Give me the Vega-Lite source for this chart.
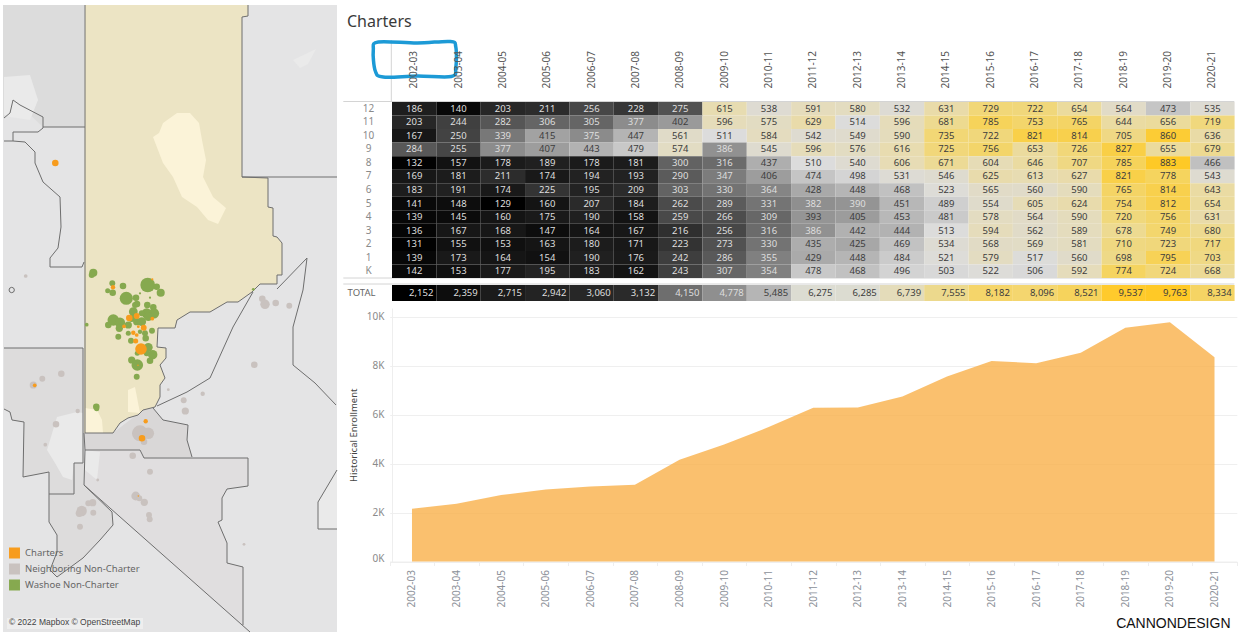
{"$schema":"https://vega.github.io/schema/vega-lite/v6.json","padding":0,"background":"white","bounds":"flush","spacing":55,
"resolve":{"scale":{"color":"independent","fill":"independent","size":"independent"},"legend":{"color":"independent"}},
"config":{"font":"Noto Sans","view":{"stroke":null},"axis":{"labelFontWeight":"normal"}},
"datasets":{
"total":[{"year":"2002-03","total":2152},{"year":"2003-04","total":2359},{"year":"2004-05","total":2715},{"year":"2005-06","total":2942},{"year":"2006-07","total":3060},{"year":"2007-08","total":3132},{"year":"2008-09","total":4150},{"year":"2009-10","total":4778},{"year":"2010-11","total":5485},{"year":"2011-12","total":6275},{"year":"2012-13","total":6285},{"year":"2013-14","total":6739},{"year":"2014-15","total":7555},{"year":"2015-16","total":8182},{"year":"2016-17","total":8096},{"year":"2017-18","total":8521},{"year":"2018-19","total":9537},{"year":"2019-20","total":9763},{"year":"2020-21","total":8334}],
"grid":[
{"year":"2002-03","grade":"12","v":186},{"year":"2003-04","grade":"12","v":140},{"year":"2004-05","grade":"12","v":203},{"year":"2005-06","grade":"12","v":211},{"year":"2006-07","grade":"12","v":256},{"year":"2007-08","grade":"12","v":228},{"year":"2008-09","grade":"12","v":275},{"year":"2009-10","grade":"12","v":615},{"year":"2010-11","grade":"12","v":538},{"year":"2011-12","grade":"12","v":591},{"year":"2012-13","grade":"12","v":580},{"year":"2013-14","grade":"12","v":532},{"year":"2014-15","grade":"12","v":631},{"year":"2015-16","grade":"12","v":729},{"year":"2016-17","grade":"12","v":722},{"year":"2017-18","grade":"12","v":654},{"year":"2018-19","grade":"12","v":564},{"year":"2019-20","grade":"12","v":473},{"year":"2020-21","grade":"12","v":535},
{"year":"2002-03","grade":"11","v":203},{"year":"2003-04","grade":"11","v":244},{"year":"2004-05","grade":"11","v":282},{"year":"2005-06","grade":"11","v":306},{"year":"2006-07","grade":"11","v":305},{"year":"2007-08","grade":"11","v":377},{"year":"2008-09","grade":"11","v":402},{"year":"2009-10","grade":"11","v":596},{"year":"2010-11","grade":"11","v":575},{"year":"2011-12","grade":"11","v":629},{"year":"2012-13","grade":"11","v":514},{"year":"2013-14","grade":"11","v":596},{"year":"2014-15","grade":"11","v":681},{"year":"2015-16","grade":"11","v":785},{"year":"2016-17","grade":"11","v":753},{"year":"2017-18","grade":"11","v":765},{"year":"2018-19","grade":"11","v":644},{"year":"2019-20","grade":"11","v":656},{"year":"2020-21","grade":"11","v":719},
{"year":"2002-03","grade":"10","v":167},{"year":"2003-04","grade":"10","v":250},{"year":"2004-05","grade":"10","v":339},{"year":"2005-06","grade":"10","v":415},{"year":"2006-07","grade":"10","v":375},{"year":"2007-08","grade":"10","v":447},{"year":"2008-09","grade":"10","v":561},{"year":"2009-10","grade":"10","v":511},{"year":"2010-11","grade":"10","v":584},{"year":"2011-12","grade":"10","v":542},{"year":"2012-13","grade":"10","v":549},{"year":"2013-14","grade":"10","v":590},{"year":"2014-15","grade":"10","v":735},{"year":"2015-16","grade":"10","v":722},{"year":"2016-17","grade":"10","v":821},{"year":"2017-18","grade":"10","v":814},{"year":"2018-19","grade":"10","v":705},{"year":"2019-20","grade":"10","v":860},{"year":"2020-21","grade":"10","v":636},
{"year":"2002-03","grade":"9","v":284},{"year":"2003-04","grade":"9","v":255},{"year":"2004-05","grade":"9","v":377},{"year":"2005-06","grade":"9","v":407},{"year":"2006-07","grade":"9","v":443},{"year":"2007-08","grade":"9","v":479},{"year":"2008-09","grade":"9","v":574},{"year":"2009-10","grade":"9","v":386},{"year":"2010-11","grade":"9","v":545},{"year":"2011-12","grade":"9","v":596},{"year":"2012-13","grade":"9","v":576},{"year":"2013-14","grade":"9","v":616},{"year":"2014-15","grade":"9","v":725},{"year":"2015-16","grade":"9","v":756},{"year":"2016-17","grade":"9","v":653},{"year":"2017-18","grade":"9","v":726},{"year":"2018-19","grade":"9","v":827},{"year":"2019-20","grade":"9","v":655},{"year":"2020-21","grade":"9","v":679},
{"year":"2002-03","grade":"8","v":132},{"year":"2003-04","grade":"8","v":157},{"year":"2004-05","grade":"8","v":178},{"year":"2005-06","grade":"8","v":189},{"year":"2006-07","grade":"8","v":178},{"year":"2007-08","grade":"8","v":181},{"year":"2008-09","grade":"8","v":300},{"year":"2009-10","grade":"8","v":316},{"year":"2010-11","grade":"8","v":437},{"year":"2011-12","grade":"8","v":510},{"year":"2012-13","grade":"8","v":540},{"year":"2013-14","grade":"8","v":606},{"year":"2014-15","grade":"8","v":671},{"year":"2015-16","grade":"8","v":604},{"year":"2016-17","grade":"8","v":646},{"year":"2017-18","grade":"8","v":707},{"year":"2018-19","grade":"8","v":785},{"year":"2019-20","grade":"8","v":883},{"year":"2020-21","grade":"8","v":466},
{"year":"2002-03","grade":"7","v":169},{"year":"2003-04","grade":"7","v":181},{"year":"2004-05","grade":"7","v":211},{"year":"2005-06","grade":"7","v":174},{"year":"2006-07","grade":"7","v":194},{"year":"2007-08","grade":"7","v":193},{"year":"2008-09","grade":"7","v":290},{"year":"2009-10","grade":"7","v":347},{"year":"2010-11","grade":"7","v":406},{"year":"2011-12","grade":"7","v":474},{"year":"2012-13","grade":"7","v":498},{"year":"2013-14","grade":"7","v":531},{"year":"2014-15","grade":"7","v":546},{"year":"2015-16","grade":"7","v":625},{"year":"2016-17","grade":"7","v":613},{"year":"2017-18","grade":"7","v":627},{"year":"2018-19","grade":"7","v":821},{"year":"2019-20","grade":"7","v":778},{"year":"2020-21","grade":"7","v":543},
{"year":"2002-03","grade":"6","v":183},{"year":"2003-04","grade":"6","v":191},{"year":"2004-05","grade":"6","v":174},{"year":"2005-06","grade":"6","v":225},{"year":"2006-07","grade":"6","v":195},{"year":"2007-08","grade":"6","v":209},{"year":"2008-09","grade":"6","v":303},{"year":"2009-10","grade":"6","v":330},{"year":"2010-11","grade":"6","v":364},{"year":"2011-12","grade":"6","v":428},{"year":"2012-13","grade":"6","v":448},{"year":"2013-14","grade":"6","v":468},{"year":"2014-15","grade":"6","v":523},{"year":"2015-16","grade":"6","v":565},{"year":"2016-17","grade":"6","v":560},{"year":"2017-18","grade":"6","v":590},{"year":"2018-19","grade":"6","v":765},{"year":"2019-20","grade":"6","v":814},{"year":"2020-21","grade":"6","v":643},
{"year":"2002-03","grade":"5","v":141},{"year":"2003-04","grade":"5","v":148},{"year":"2004-05","grade":"5","v":129},{"year":"2005-06","grade":"5","v":160},{"year":"2006-07","grade":"5","v":207},{"year":"2007-08","grade":"5","v":184},{"year":"2008-09","grade":"5","v":262},{"year":"2009-10","grade":"5","v":289},{"year":"2010-11","grade":"5","v":331},{"year":"2011-12","grade":"5","v":382},{"year":"2012-13","grade":"5","v":390},{"year":"2013-14","grade":"5","v":451},{"year":"2014-15","grade":"5","v":489},{"year":"2015-16","grade":"5","v":554},{"year":"2016-17","grade":"5","v":605},{"year":"2017-18","grade":"5","v":624},{"year":"2018-19","grade":"5","v":754},{"year":"2019-20","grade":"5","v":812},{"year":"2020-21","grade":"5","v":654},
{"year":"2002-03","grade":"4","v":139},{"year":"2003-04","grade":"4","v":145},{"year":"2004-05","grade":"4","v":160},{"year":"2005-06","grade":"4","v":175},{"year":"2006-07","grade":"4","v":190},{"year":"2007-08","grade":"4","v":158},{"year":"2008-09","grade":"4","v":259},{"year":"2009-10","grade":"4","v":266},{"year":"2010-11","grade":"4","v":309},{"year":"2011-12","grade":"4","v":393},{"year":"2012-13","grade":"4","v":405},{"year":"2013-14","grade":"4","v":453},{"year":"2014-15","grade":"4","v":481},{"year":"2015-16","grade":"4","v":578},{"year":"2016-17","grade":"4","v":564},{"year":"2017-18","grade":"4","v":590},{"year":"2018-19","grade":"4","v":720},{"year":"2019-20","grade":"4","v":756},{"year":"2020-21","grade":"4","v":631},
{"year":"2002-03","grade":"3","v":136},{"year":"2003-04","grade":"3","v":167},{"year":"2004-05","grade":"3","v":168},{"year":"2005-06","grade":"3","v":147},{"year":"2006-07","grade":"3","v":164},{"year":"2007-08","grade":"3","v":167},{"year":"2008-09","grade":"3","v":216},{"year":"2009-10","grade":"3","v":256},{"year":"2010-11","grade":"3","v":316},{"year":"2011-12","grade":"3","v":386},{"year":"2012-13","grade":"3","v":442},{"year":"2013-14","grade":"3","v":444},{"year":"2014-15","grade":"3","v":513},{"year":"2015-16","grade":"3","v":594},{"year":"2016-17","grade":"3","v":562},{"year":"2017-18","grade":"3","v":589},{"year":"2018-19","grade":"3","v":678},{"year":"2019-20","grade":"3","v":749},{"year":"2020-21","grade":"3","v":680},
{"year":"2002-03","grade":"2","v":131},{"year":"2003-04","grade":"2","v":155},{"year":"2004-05","grade":"2","v":153},{"year":"2005-06","grade":"2","v":163},{"year":"2006-07","grade":"2","v":180},{"year":"2007-08","grade":"2","v":171},{"year":"2008-09","grade":"2","v":223},{"year":"2009-10","grade":"2","v":273},{"year":"2010-11","grade":"2","v":330},{"year":"2011-12","grade":"2","v":435},{"year":"2012-13","grade":"2","v":425},{"year":"2013-14","grade":"2","v":469},{"year":"2014-15","grade":"2","v":534},{"year":"2015-16","grade":"2","v":568},{"year":"2016-17","grade":"2","v":569},{"year":"2017-18","grade":"2","v":581},{"year":"2018-19","grade":"2","v":710},{"year":"2019-20","grade":"2","v":723},{"year":"2020-21","grade":"2","v":717},
{"year":"2002-03","grade":"1","v":139},{"year":"2003-04","grade":"1","v":173},{"year":"2004-05","grade":"1","v":164},{"year":"2005-06","grade":"1","v":154},{"year":"2006-07","grade":"1","v":190},{"year":"2007-08","grade":"1","v":176},{"year":"2008-09","grade":"1","v":242},{"year":"2009-10","grade":"1","v":286},{"year":"2010-11","grade":"1","v":355},{"year":"2011-12","grade":"1","v":429},{"year":"2012-13","grade":"1","v":448},{"year":"2013-14","grade":"1","v":484},{"year":"2014-15","grade":"1","v":521},{"year":"2015-16","grade":"1","v":579},{"year":"2016-17","grade":"1","v":517},{"year":"2017-18","grade":"1","v":560},{"year":"2018-19","grade":"1","v":698},{"year":"2019-20","grade":"1","v":795},{"year":"2020-21","grade":"1","v":703},
{"year":"2002-03","grade":"K","v":142},{"year":"2003-04","grade":"K","v":153},{"year":"2004-05","grade":"K","v":177},{"year":"2005-06","grade":"K","v":195},{"year":"2006-07","grade":"K","v":183},{"year":"2007-08","grade":"K","v":162},{"year":"2008-09","grade":"K","v":243},{"year":"2009-10","grade":"K","v":307},{"year":"2010-11","grade":"K","v":354},{"year":"2011-12","grade":"K","v":478},{"year":"2012-13","grade":"K","v":468},{"year":"2013-14","grade":"K","v":496},{"year":"2014-15","grade":"K","v":503},{"year":"2015-16","grade":"K","v":522},{"year":"2016-17","grade":"K","v":506},{"year":"2017-18","grade":"K","v":592},{"year":"2018-19","grade":"K","v":774},{"year":"2019-20","grade":"K","v":724},{"year":"2020-21","grade":"K","v":668}],
"shapes":[
{"type":"Feature","properties":{"kind":"page"},"geometry":{"type":"Polygon","coordinates":[[[0,0],[337,0],[337,633],[0,633],[0,0]]]}},
{"type":"Feature","properties":{"kind":"land"},"geometry":{"type":"Polygon","coordinates":[[[3,5],[337,5],[337,632],[3,632],[3,5]]]}},
{"type":"Feature","properties":{"kind":"north"},"geometry":{"type":"Polygon","coordinates":[[[3,5],[84,5],[84,127],[43,127],[20,105],[13,100],[10,113],[3,118],[3,5]]]}},
{"type":"Feature","properties":{"kind":"county"},"geometry":{"type":"Polygon","coordinates":[[[4,348],[83,348],[83,463],[74,463],[74,494],[49,494],[49,472],[23,477],[24,422],[12,420],[10,412],[4,409],[4,348]]]}},
{"type":"Feature","properties":{"kind":"storey"},"geometry":{"type":"Polygon","coordinates":[[[84,433],[113,433],[143,410],[153,408],[163,420],[188,425],[187,440],[192,457],[144,458],[140,450],[85,450],[84,433]]]}},
{"type":"Feature","properties":{"kind":"county2"},"geometry":{"type":"Polygon","coordinates":[[[85,450],[140,450],[144,458],[248,458],[248,486],[227,489],[222,498],[222,520],[218,522],[227,543],[227,563],[243,567],[243,625],[250,632],[84,485],[85,450]]]}},
{"type":"Feature","properties":{"kind":"county"},"geometry":{"type":"Polygon","coordinates":[[[84,485],[112,512],[113,525],[100,540],[83,558],[57,577],[50,570],[57,552],[57,535],[49,522],[49,494],[74,494],[74,463],[84,463],[84,485]]]}},
{"type":"Feature","properties":{"kind":"pale"},"geometry":{"type":"Polygon","coordinates":[[[337,470],[318,502],[318,529],[337,529],[337,470]]]}},
{"type":"Feature","properties":{"kind":"pale"},"geometry":{"type":"Polygon","coordinates":[[[4,77],[30,75],[38,100],[30,120],[10,117],[4,115],[4,77]]]}},
{"type":"Feature","properties":{"kind":"pale"},"geometry":{"type":"Polygon","coordinates":[[[47,450],[57,417],[77,412],[83,413],[83,463],[74,463],[72,480],[63,477],[55,463],[47,450]]]}},
{"type":"Feature","properties":{"kind":"pale"},"geometry":{"type":"Polygon","coordinates":[[[85,450],[100,452],[97,480],[85,470],[85,450]]]}},
{"type":"Feature","properties":{"kind":"pale"},"geometry":{"type":"Polygon","coordinates":[[[293,60],[316,49],[308,64],[300,68],[293,60]]]}},
{"type":"Feature","properties":{"kind":"washoe"},"geometry":{"type":"Polygon","coordinates":[[[85,5],[248,5],[248,16],[242,17],[242,177],[268,178],[268,207],[273,208],[273,236],[277,237],[282,243],[282,275],[277,275],[277,284],[260,284],[252,292],[238,302],[227,302],[210,312],[190,312],[177,320],[175,328],[158,328],[157,347],[166,348],[166,358],[160,365],[165,378],[160,385],[160,397],[155,407],[143,410],[138,415],[128,418],[120,423],[113,433],[84,433],[85,5]]]}},
{"type":"Feature","properties":{"kind":"lake"},"geometry":{"type":"Polygon","coordinates":[[[163,123],[177,113],[190,113],[199,123],[202,140],[206,160],[203,177],[213,197],[226,208],[218,224],[208,220],[197,207],[182,197],[173,177],[163,163],[158,150],[153,137],[159,133],[163,123]]]}},
{"type":"Feature","properties":{"kind":"lake"},"geometry":{"type":"Polygon","coordinates":[[[85,408],[97,410],[102,420],[103,433],[85,433],[85,408]]]}},
{"type":"Feature","properties":{"kind":"lake"},"geometry":{"type":"Polygon","coordinates":[[[128,390],[135,387],[140,413],[128,412],[128,390]]]}},
{"type":"Feature","properties":{"kind":"attribution"},"geometry":{"type":"Polygon","coordinates":[[[7,618],[143,618],[143,629],[7,629],[7,618]]]}}],
"lines":[
{"type":"Feature","properties":{"name":"washoe"},"geometry":{"type":"LineString","coordinates":[[85,5],[85,433],[113,433],[120,423],[128,418],[138,415],[143,410],[155,407],[160,397],[160,385],[165,378],[160,365],[166,358],[166,348],[157,347],[158,328],[175,328],[177,320],[190,312],[210,312],[227,302],[238,302],[252,292],[260,284],[277,284],[277,275],[282,275],[282,243],[277,237],[273,236],[273,208],[268,207],[268,178],[242,177],[242,17],[248,16],[248,5]]}},
{"type":"Feature","properties":{"name":"a"},"geometry":{"type":"LineString","coordinates":[[242,177],[337,177]]}},
{"type":"Feature","properties":{"name":"b"},"geometry":{"type":"LineString","coordinates":[[4,348],[83,348],[83,463],[74,463],[74,494],[49,494],[49,472],[23,477],[24,422],[12,420],[10,412],[4,409]]}},
{"type":"Feature","properties":{"name":"c"},"geometry":{"type":"LineString","coordinates":[[4,141],[13,141],[13,132],[38,132],[43,128],[43,117],[20,105],[13,100],[10,113],[4,118]]}},
{"type":"Feature","properties":{"name":"d"},"geometry":{"type":"LineString","coordinates":[[13,141],[25,142],[35,152],[35,163],[43,182],[60,197],[61,227],[58,248],[50,258],[50,267],[82,267],[84,262]]}},
{"type":"Feature","properties":{"name":"e"},"geometry":{"type":"LineString","coordinates":[[43,127],[85,127]]}},
{"type":"Feature","properties":{"name":"f"},"geometry":{"type":"LineString","coordinates":[[153,408],[163,420],[188,425],[187,440],[192,457]]}},
{"type":"Feature","properties":{"name":"g"},"geometry":{"type":"LineString","coordinates":[[85,450],[140,450],[144,458],[248,458],[248,486],[227,489],[222,498],[222,520],[218,522],[227,543],[227,563],[243,567],[243,625]]}},
{"type":"Feature","properties":{"name":"h"},"geometry":{"type":"LineString","coordinates":[[84,433],[85,450],[84,485],[250,632]]}},
{"type":"Feature","properties":{"name":"i"},"geometry":{"type":"LineString","coordinates":[[84,485],[112,512],[113,525],[100,540],[83,558],[57,577],[50,570],[57,552],[57,535],[49,522],[49,494]]}},
{"type":"Feature","properties":{"name":"j"},"geometry":{"type":"LineString","coordinates":[[253,292],[233,327],[210,378],[187,392],[157,406]]}},
{"type":"Feature","properties":{"name":"k"},"geometry":{"type":"LineString","coordinates":[[277,289],[307,258],[303,290],[293,327],[293,365],[315,383],[336,405]]}},
{"type":"Feature","properties":{"name":"l"},"geometry":{"type":"LineString","coordinates":[[337,470],[318,502],[318,529],[337,529]]}},
{"type":"Feature","properties":{"name":"ring"},"geometry":{"type":"LineString","coordinates":[[14.4,290],[13.6,292],[11.7,292.7],[9.8,292],[9,290],[9.8,288],[11.7,287.3],[13.6,288],[14.4,290]]}}],
"schools":[
{"lon":25.7,"lat":276,"r":1.7,"group":"Neighboring Non-Charter"},{"lon":33.3,"lat":385,"r":3.3,"group":"Neighboring Non-Charter"},{"lon":42.3,"lat":378.7,"r":2.7,"group":"Neighboring Non-Charter"},{"lon":61.3,"lat":373.7,"r":3,"group":"Neighboring Non-Charter"},{"lon":56,"lat":424.3,"r":3,"group":"Neighboring Non-Charter"},{"lon":45.3,"lat":444.7,"r":1.7,"group":"Neighboring Non-Charter"},{"lon":77.7,"lat":411,"r":2,"group":"Neighboring Non-Charter"},{"lon":132.7,"lat":455.7,"r":3,"group":"Neighboring Non-Charter"},{"lon":97.7,"lat":480,"r":1.3,"group":"Neighboring Non-Charter"},{"lon":150,"lat":471.7,"r":2.7,"group":"Neighboring Non-Charter"},{"lon":80,"lat":526.7,"r":2.7,"group":"Neighboring Non-Charter"},{"lon":93.3,"lat":512.7,"r":2.7,"group":"Neighboring Non-Charter"},{"lon":81.7,"lat":511,"r":4.7,"group":"Neighboring Non-Charter"},{"lon":79.3,"lat":513.3,"r":3.3,"group":"Neighboring Non-Charter"},{"lon":88.3,"lat":503.3,"r":2.7,"group":"Neighboring Non-Charter"},{"lon":92.7,"lat":502.7,"r":3.3,"group":"Neighboring Non-Charter"},{"lon":135.7,"lat":496,"r":4,"group":"Neighboring Non-Charter"},{"lon":139.3,"lat":498.3,"r":2.7,"group":"Neighboring Non-Charter"},{"lon":144.3,"lat":502.3,"r":3.3,"group":"Neighboring Non-Charter"},{"lon":149,"lat":515,"r":2.7,"group":"Neighboring Non-Charter"},{"lon":149.7,"lat":519.3,"r":2.7,"group":"Neighboring Non-Charter"},{"lon":244,"lat":544.3,"r":1.3,"group":"Neighboring Non-Charter"},{"lon":254.3,"lat":364.7,"r":3,"group":"Neighboring Non-Charter"},{"lon":202.7,"lat":393.7,"r":2,"group":"Neighboring Non-Charter"},{"lon":183.7,"lat":400.3,"r":2.7,"group":"Neighboring Non-Charter"},{"lon":185.3,"lat":411,"r":3.3,"group":"Neighboring Non-Charter"},{"lon":168.3,"lat":389.7,"r":1.3,"group":"Neighboring Non-Charter"},{"lon":262.3,"lat":298.7,"r":3,"group":"Neighboring Non-Charter"},{"lon":265,"lat":304.3,"r":4.3,"group":"Neighboring Non-Charter"},{"lon":275.7,"lat":303,"r":3,"group":"Neighboring Non-Charter"},{"lon":289.3,"lat":305.7,"r":2.7,"group":"Neighboring Non-Charter"},{"lon":140,"lat":433.3,"r":7.3,"group":"Neighboring Non-Charter"},{"lon":148.3,"lat":433.3,"r":5.3,"group":"Neighboring Non-Charter"},{"lon":135,"lat":432.7,"r":2.3,"group":"Neighboring Non-Charter"},{"lon":144,"lat":441.7,"r":3,"group":"Neighboring Non-Charter"},
{"lon":93.3,"lat":272.7,"r":3.7,"group":"Washoe Non-Charter"},{"lon":91.7,"lat":275,"r":2.7,"group":"Washoe Non-Charter"},{"lon":112.3,"lat":283.3,"r":2.7,"group":"Washoe Non-Charter"},{"lon":123,"lat":286,"r":3,"group":"Washoe Non-Charter"},{"lon":107.7,"lat":290.7,"r":2.3,"group":"Washoe Non-Charter"},{"lon":112.7,"lat":292.7,"r":3,"group":"Washoe Non-Charter"},{"lon":126.3,"lat":298.3,"r":6,"group":"Washoe Non-Charter"},{"lon":147.7,"lat":285,"r":6.7,"group":"Washoe Non-Charter"},{"lon":156.7,"lat":286.7,"r":3,"group":"Washoe Non-Charter"},{"lon":160.7,"lat":292.7,"r":3.7,"group":"Washoe Non-Charter"},{"lon":136,"lat":297.7,"r":3,"group":"Washoe Non-Charter"},{"lon":137,"lat":304,"r":3,"group":"Washoe Non-Charter"},{"lon":140,"lat":293.3,"r":1,"group":"Washoe Non-Charter"},{"lon":150,"lat":297.7,"r":1,"group":"Washoe Non-Charter"},{"lon":147.3,"lat":305,"r":3,"group":"Washoe Non-Charter"},{"lon":153.3,"lat":307.3,"r":3,"group":"Washoe Non-Charter"},{"lon":154,"lat":313.3,"r":4.7,"group":"Washoe Non-Charter"},{"lon":146.7,"lat":313.3,"r":4.7,"group":"Washoe Non-Charter"},{"lon":141.7,"lat":313.3,"r":2.7,"group":"Washoe Non-Charter"},{"lon":133.3,"lat":311.7,"r":4,"group":"Washoe Non-Charter"},{"lon":135,"lat":305,"r":2.7,"group":"Washoe Non-Charter"},{"lon":131.7,"lat":318.3,"r":3.3,"group":"Washoe Non-Charter"},{"lon":113.3,"lat":320,"r":5.3,"group":"Washoe Non-Charter"},{"lon":108.3,"lat":325,"r":3,"group":"Washoe Non-Charter"},{"lon":120,"lat":322.7,"r":4.7,"group":"Washoe Non-Charter"},{"lon":119.3,"lat":328.3,"r":3.3,"group":"Washoe Non-Charter"},{"lon":128.3,"lat":325,"r":3.3,"group":"Washoe Non-Charter"},{"lon":136.7,"lat":321.7,"r":3.3,"group":"Washoe Non-Charter"},{"lon":141.7,"lat":321.7,"r":4,"group":"Washoe Non-Charter"},{"lon":148.3,"lat":316.7,"r":4,"group":"Washoe Non-Charter"},{"lon":145,"lat":333.3,"r":2.7,"group":"Washoe Non-Charter"},{"lon":152,"lat":330.7,"r":2.7,"group":"Washoe Non-Charter"},{"lon":118.3,"lat":336.7,"r":2.7,"group":"Washoe Non-Charter"},{"lon":131,"lat":340.7,"r":2.7,"group":"Washoe Non-Charter"},{"lon":145.7,"lat":338.3,"r":3,"group":"Washoe Non-Charter"},{"lon":140,"lat":331.7,"r":2,"group":"Washoe Non-Charter"},{"lon":148.3,"lat":347.3,"r":4,"group":"Washoe Non-Charter"},{"lon":152.7,"lat":354.7,"r":4.3,"group":"Washoe Non-Charter"},{"lon":150,"lat":360.7,"r":3,"group":"Washoe Non-Charter"},{"lon":131.7,"lat":360,"r":3.3,"group":"Washoe Non-Charter"},{"lon":137.3,"lat":365,"r":5.3,"group":"Washoe Non-Charter"},{"lon":136.7,"lat":376.7,"r":2.7,"group":"Washoe Non-Charter"},{"lon":96.3,"lat":406.7,"r":3,"group":"Washoe Non-Charter"},{"lon":96.7,"lat":408.7,"r":2.3,"group":"Washoe Non-Charter"},{"lon":86.7,"lat":324.7,"r":1.7,"group":"Washoe Non-Charter"},{"lon":253.3,"lat":289.3,"r":1.3,"group":"Washoe Non-Charter"},{"lon":146.7,"lat":353.3,"r":2.7,"group":"Washoe Non-Charter"},{"lon":137.3,"lat":353.3,"r":2.3,"group":"Washoe Non-Charter"},{"lon":128.3,"lat":333.3,"r":2.3,"group":"Washoe Non-Charter"},
{"lon":113,"lat":287.3,"r":2,"group":"Charters"},{"lon":129.3,"lat":318,"r":3,"group":"Charters"},{"lon":136.7,"lat":316,"r":2.7,"group":"Charters"},{"lon":152.3,"lat":318.7,"r":1.7,"group":"Charters"},{"lon":143.7,"lat":327.7,"r":2.7,"group":"Charters"},{"lon":124,"lat":326.3,"r":1.7,"group":"Charters"},{"lon":138.3,"lat":326.7,"r":1.3,"group":"Charters"},{"lon":133.3,"lat":332.7,"r":2,"group":"Charters"},{"lon":136.7,"lat":335,"r":1.7,"group":"Charters"},{"lon":135.7,"lat":341,"r":2.3,"group":"Charters"},{"lon":141,"lat":349,"r":5.3,"group":"Charters"},{"lon":138,"lat":365.3,"r":0.7,"group":"Charters"},{"lon":34.7,"lat":385.3,"r":1.7,"group":"Charters"},{"lon":145.7,"lat":421.3,"r":2,"group":"Charters"},{"lon":142,"lat":438.3,"r":3,"group":"Charters"},{"lon":138.3,"lat":496,"r":0.7,"group":"Charters"},{"lon":152.3,"lat":279.3,"r":1,"group":"Charters"},{"lon":55.3,"lat":163,"r":3,"group":"Charters"}],
"frameLines":[
{"part":"divider","x":391,"y":40},{"part":"divider","x":391,"y":101.5},
{"part":"headBase","x":343,"y":101.5},{"part":"headBase","x":1234,"y":101.5},
{"part":"gridBase","x":343,"y":278},{"part":"gridBase","x":1234,"y":278},
{"part":"totalTop","x":343,"y":284},{"part":"totalTop","x":1234,"y":284}],
"marker":[
{"i":1,"x":378,"y":42},{"i":2,"x":417,"y":43},{"i":3,"x":450,"y":41.5},{"i":4,"x":455.5,"y":47},{"i":5,"x":455.5,"y":68},{"i":6,"x":451,"y":76.5},{"i":7,"x":417,"y":76},{"i":8,"x":383,"y":77},{"i":9,"x":375,"y":71},{"i":10,"x":373,"y":50}]
},
"hconcat":[
{"width":337,"height":633,"projection":{"type":"identity"},
"layer":[
{"data":{"name":"shapes"},"mark":{"type":"geoshape","strokeWidth":0},"encoding":{"fill":{"field":"properties.kind","type":"nominal","legend":null,"scale":{"domain":["page","land","north","county","storey","county2","pale","washoe","lake","attribution"],"range":["#ffffff","#e4e4e5","#dcdcdc","#dddcdc","#d9d7d7","#e0dedf","#eaeaea","#ece4c4","#fbf3d8","#eeeeee"]}}}},
{"data":{"name":"lines"},"mark":{"type":"geoshape","filled":false,"stroke":"#6e6e6e","strokeWidth":1,"fill":null},"encoding":{}},
{"data":{"name":"schools"},"mark":{"type":"circle","opacity":1},"encoding":{"longitude":{"field":"lon","type":"quantitative"},"latitude":{"field":"lat","type":"quantitative"},"size":{"field":"r","type":"quantitative","legend":null,"scale":{"type":"pow","exponent":2,"domain":[0,10],"range":[0,480]}},"color":{"field":"group","type":"nominal","sort":null,"scale":{"domain":["Charters","Neighboring Non-Charter","Washoe Non-Charter"],"range":["#f79c1d","#c9c2bf","#86a94f"]},"legend":{"orient":"none","legendX":8,"legendY":546,"title":null,"symbolType":"square","symbolSize":120,"symbolOpacity":1,"labelFontSize":9.5,"labelColor":"#666666","clipHeight":14,"rowPadding":2,"labelOffset":4}}}},
{"data":{"values":[{"lon":9,"lat":627,"note":"© 2022 Mapbox © OpenStreetMap"}]},"mark":{"type":"text","align":"left","baseline":"bottom","fontSize":8.5,"color":"#444444","font":"Liberation Sans"},"encoding":{"longitude":{"field":"lon","type":"quantitative"},"latitude":{"field":"lat","type":"quantitative"},"text":{"field":"note"}}}
]},
{"bounds":"flush","spacing":7,
"resolve":{"scale":{"color":"independent"}},
"vconcat":[
{"width":842.6,"height":94.5,
"title":{"text":"Charters","anchor":"start","frame":"group","dx":-45,"dy":34,"fontSize":16,"fontWeight":"normal","color":"#3a3a3a"},
"resolve":{"scale":{"x":"independent","y":"independent"},"axis":{"x":"independent","y":"independent"}},
"layer":[
{"data":{"name":"total"},"mark":{"type":"rect","opacity":0},"encoding":{"x":{"field":"year","type":"nominal","sort":null,"scale":{"type":"band","paddingInner":0,"paddingOuter":0},"axis":{"orient":"bottom","title":null,"labelAngle":-90,"labelAlign":"left","labelBaseline":"middle","labelPadding":-6.5,"labelFontSize":10,"labelColor":"#555555","ticks":false,"domain":false}}}},
{"data":{"name":"frameLines"},"mark":{"type":"line","stroke":"#d4d4d4","strokeWidth":1},"encoding":{"x":{"field":"x","type":"quantitative","axis":null,"scale":{"domain":[391.7,1234.3],"nice":false,"zero":false}},"y":{"field":"y","type":"quantitative","axis":null,"scale":{"domain":[94.5,0],"nice":false,"zero":false}},"detail":{"field":"part"}}},
{"data":{"name":"marker"},"mark":{"type":"line","stroke":"#1c9ad6","strokeWidth":3.5,"interpolate":"cardinal-closed"},"encoding":{"x":{"field":"x","type":"quantitative","axis":null,"scale":{"domain":[391.7,1234.3],"nice":false,"zero":false}},"y":{"field":"y","type":"quantitative","axis":null,"scale":{"domain":[94.5,0],"nice":false,"zero":false}},"order":{"field":"i","type":"quantitative"}}}
]},
{"data":{"name":"grid"},"width":842.6,"height":176,
"encoding":{"x":{"field":"year","type":"nominal","sort":null,"axis":null,"scale":{"type":"band","paddingInner":0,"paddingOuter":0}},"y":{"field":"grade","type":"nominal","sort":["12","11","10","9","8","7","6","5","4","3","2","1","K"],"scale":{"type":"band","paddingInner":0,"paddingOuter":0},"axis":{"title":null,"ticks":false,"domain":false,"labelAlign":"center","labelPadding":24,"labelFontSize":10,"labelColor":"#8a8a8a"}}},
"layer":[
{"mark":{"type":"rect"},"encoding":{"color":{"field":"v","type":"quantitative","legend":null,"scale":{"domain":[129,186,256,320,380,440,510,545,600,680,785,883],"range":["#000000","#1e1e1e","#474747","#6e6e6e","#8e8e8e","#b0b0b0","#dcdcdc","#dedbcf","#e6dcb8","#edda90","#f6d35a","#fec926"]}}}},
{"mark":{"type":"text","fontSize":9.5},"encoding":{"text":{"field":"v","type":"quantitative"},"color":{"condition":{"test":"datum.v < 391.5","value":"#dedede"},"value":"#3d3d3d"}}}
]},
{"data":{"name":"total"},"width":842.6,"height":16,
"encoding":{"x":{"field":"year","type":"nominal","sort":null,"axis":null,"scale":{"type":"band","paddingInner":0,"paddingOuter":0}},"y":{"datum":"TOTAL","type":"nominal","scale":{"type":"band","paddingInner":0,"paddingOuter":0},"axis":{"title":null,"ticks":false,"domain":false,"labelAlign":"center","labelPadding":31,"labelFontSize":9.5,"labelColor":"#666666"}}},
"layer":[
{"mark":{"type":"rect"},"encoding":{"color":{"field":"total","type":"quantitative","legend":null,"scale":{"domain":[2152,3132,4150,4778,5485,6275,6739,7555,8182,8521,9537,9763],"range":["#000000","#2a2a2a","#6e6e6e","#8f8f8f","#b5b5b5","#dcdcd2","#e4dcba","#ecd98d","#f5d56a","#f6d35c","#ffca2c","#ffc926"]}}}},
{"mark":{"type":"text","fontSize":9.5,"align":"right","dx":-3},"encoding":{"x":{"field":"year","type":"nominal","sort":null,"bandPosition":1},"text":{"field":"total","type":"quantitative","format":","},"color":{"condition":{"test":"datum.total < 5000","value":"#dedede"},"value":"#3d3d3d"}}}
]},
{"data":{"name":"total"},"width":842.6,"height":253.5,
"mark":{"type":"area","color":"#f9b04a","opacity":0.8},
"encoding":{
"x":{"field":"year","type":"nominal","sort":null,"scale":{"type":"band","paddingInner":0,"paddingOuter":0,"range":[-2.3,844.8]},"axis":{"title":"CANNONDESIGN","titleFont":"Liberation Sans","titleFontSize":14,"titleFontWeight":"normal","titleColor":"#111111","titleAnchor":"end","titleX":838,"titleY":66,"titleBaseline":"alphabetic","labelAngle":-90,"labelPadding":4,"labelFontSize":10,"labelColor":"#8b9098","tickBand":"extent","tickColor":"#eeeeee","tickSize":4,"domainColor":"#eeeeee"}},
"y":{"field":"total","type":"quantitative","title":"Historical Enrollment","scale":{"domain":[0,10347],"nice":false},"axis":{"values":[0,2000,4000,6000,8000,10000],"labelExpr":"(datum.value/1000)+'K'","ticks":false,"domainColor":"#eeeeee","labelFlush":true,"labelFlushOffset":2,"labelPadding":8,"labelFontSize":10,"labelColor":"#8a8a8a","gridColor":"#efefef","titleFontSize":9.5,"titleFontWeight":"normal","titleColor":"#444444","titlePadding":8}}
}}
]}
]}
